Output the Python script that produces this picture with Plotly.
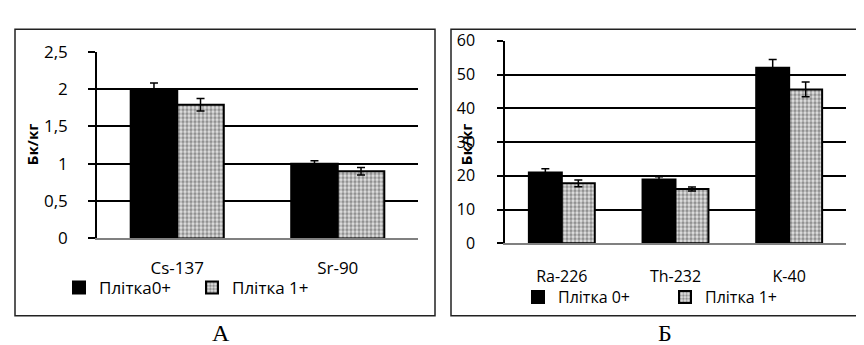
import plotly.graph_objects as go

# ---- Panel A data ----
cats_a = ["Cs-137", "Sr-90"]
a_p0 = [2.0, 1.0]
a_p0_err = [0.08, 0.04]
a_p1 = [1.79, 0.9]
a_p1_err = [0.085, 0.05]
a_names = ["Плітка0+", "Плітка 1+"]
a_ticks = [0, 0.5, 1, 1.5, 2, 2.5]
a_ticklabels = ["0", "0,5", "1", "1,5", "2", "2,5"]

# ---- Panel B data ----
cats_b = ["Ra-226", "Th-232", "K-40"]
b_p0 = [21.0, 18.9, 52.0]
b_p0_err = [1.1, 0.8, 2.5]
b_p1 = [17.8, 16.1, 45.6]
b_p1_err = [1.0, 0.6, 2.2]
b_names = ["Плітка 0+", "Плітка 1+"]
b_ticks = [0, 10, 20, 30, 40, 50, 60]

W, H = 864, 345
FONT = "'Open Sans', sans-serif"

def px_x(p):
    return p / W

def px_y(p):
    return 1 - p / H

black_marker = dict(color="black", line=dict(color="black", width=2))
dot_marker = dict(
    color="#e2e2e2",
    line=dict(color="black", width=2),
    pattern=dict(shape=".", fgcolor="#404040", bgcolor="#e2e2e2", size=4, solidity=0.55),
)

def err(vals):
    return dict(type="data", array=vals, visible=True, color="black", thickness=1.5, width=4)

fig = go.Figure()
fig.add_trace(go.Bar(x=cats_a, y=a_p0, name=a_names[0], marker=black_marker,
                     error_y=err(a_p0_err), xaxis="x", yaxis="y", legend="legend"))
fig.add_trace(go.Bar(x=cats_a, y=a_p1, name=a_names[1], marker=dot_marker,
                     error_y=err(a_p1_err), xaxis="x", yaxis="y", legend="legend"))
fig.add_trace(go.Bar(x=cats_b, y=b_p0, name=b_names[0], marker=black_marker,
                     error_y=err(b_p0_err), xaxis="x2", yaxis="y2", legend="legend2"))
fig.add_trace(go.Bar(x=cats_b, y=b_p1, name=b_names[1], marker=dot_marker,
                     error_y=err(b_p1_err), xaxis="x2", yaxis="y2", legend="legend2"))

font_a = dict(family=FONT, size=17, color="black")
font_b = dict(family=FONT, size=16, color="black")

fig.update_layout(
    width=W, height=H,
    margin=dict(l=0, r=0, t=0, b=0),
    paper_bgcolor="white", plot_bgcolor="white",
    barmode="group", bargap=0.42, bargroupgap=0,
    font=dict(family=FONT, size=16, color="black"),
    xaxis=dict(domain=[px_x(89), px_x(410)], anchor="y", showline=True, linecolor="#808080",
               linewidth=2, ticks="", tickfont=font_a, ticklabelstandoff=13,
               showgrid=False, zeroline=False),
    yaxis=dict(domain=[px_y(234), px_y(34)], anchor="x", range=[0, 2.5],
               tickvals=a_ticks, ticktext=a_ticklabels, showline=True, linecolor="black",
               linewidth=1.5, ticks="outside", ticklen=7, tickwidth=1.5, tickcolor="black",
               showgrid=True, gridcolor="black", gridwidth=1.5, zeroline=False,
               tickfont=font_a, ticklabelstandoff=17),
    xaxis2=dict(domain=[px_x(497), px_x(838)], anchor="y2", showline=True, linecolor="#808080",
                linewidth=2, ticks="", tickfont=font_b, ticklabelstandoff=17,
                showgrid=False, zeroline=False),
    yaxis2=dict(domain=[px_y(239.3), px_y(22.3)], anchor="x2", range=[0, 60],
                tickvals=b_ticks, showline=True, linecolor="black",
                linewidth=1.5, ticks="outside", ticklen=6, tickwidth=1.5, tickcolor="black",
                showgrid=True, gridcolor="black", gridwidth=1.5, zeroline=False,
                tickfont=font_b, ticklabelstandoff=19),
    legend=dict(orientation="h", x=px_x(51), xanchor="left", y=px_y(287), yanchor="middle",
                entrywidth=88, font=font_a, bgcolor="rgba(0,0,0,0)",
                traceorder="normal"),
    legend2=dict(orientation="h", x=px_x(510), xanchor="left", y=px_y(297), yanchor="middle",
                 entrywidth=102, font=font_b, bgcolor="rgba(0,0,0,0)",
                 traceorder="normal"),
    showlegend=True,
)

# outer frames
for x0, x1 in [(7, 427), (443, 862)]:
    fig.add_shape(type="rect", xref="paper", yref="paper",
                  x0=px_x(x0), x1=px_x(x1), y0=px_y(317), y1=px_y(10),
                  line=dict(color="#222", width=1.5), fillcolor="rgba(0,0,0,0)", layer="below")

# y axis titles
for xc, yc in [(24, 133), (458, 133)]:
    fig.add_annotation(text="<b>Бк/кг</b>", xref="paper", yref="paper",
                       x=px_x(xc), y=px_y(yc), textangle=-90, showarrow=False,
                       font=dict(family=FONT, size=15, color="black"),
                       xanchor="center", yanchor="middle")

# captions
for xc, txt in [(213, "А"), (657, "Б")]:
    fig.add_annotation(text=txt, xref="paper", yref="paper", x=px_x(xc), y=px_y(335),
                       showarrow=False, font=dict(family="Liberation Serif, serif", size=24, color="black"),
                       xanchor="center", yanchor="middle")

fig.write_html("out.html")
